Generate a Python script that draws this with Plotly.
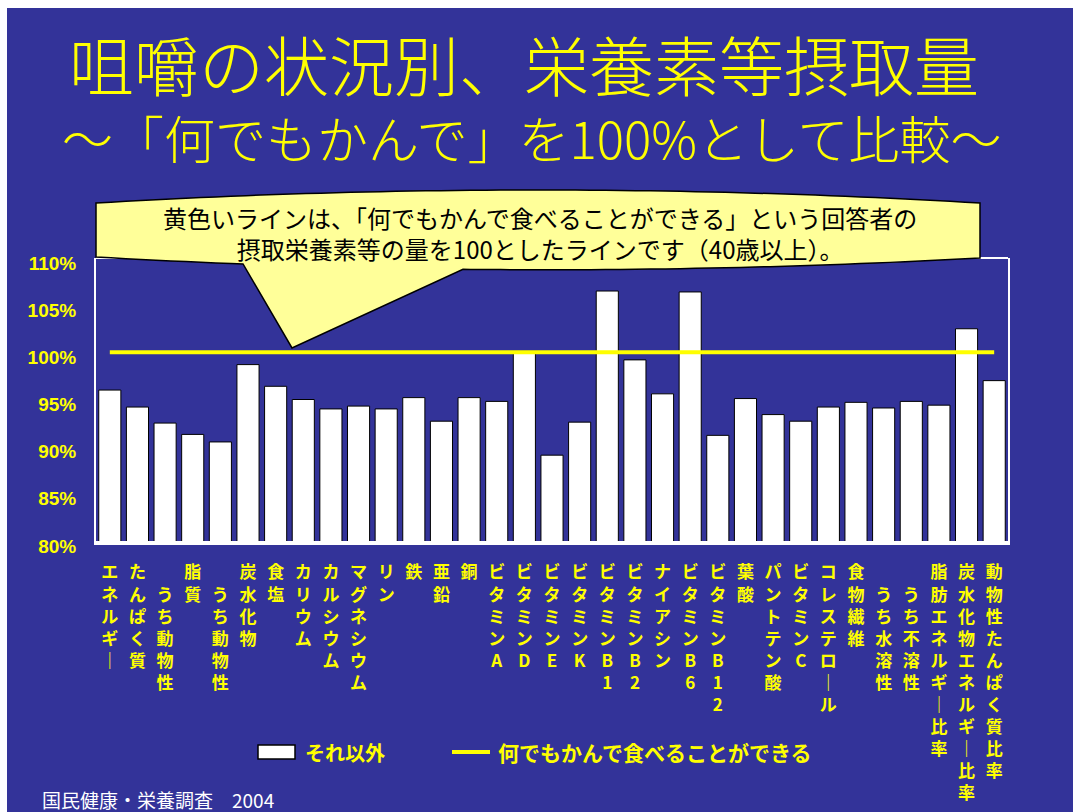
import numpy as np
import plotly.graph_objects as go

# --- data -------------------------------------------------------------
nutrients = [
    "エネルギー", "たんぱく質", "うち動物性", "脂質", "うち動物性", "炭水化物",
    "食塩", "カリウム", "カルシウム", "マグネシウム", "リン", "鉄", "亜鉛", "銅",
    "ビタミンA", "ビタミンD", "ビタミンE", "ビタミンK", "ビタミンB1", "ビタミンB2",
    "ナイアシン", "ビタミンB6", "ビタミンB12", "葉酸", "パントテン酸", "ビタミンC",
    "コレステロール", "食物繊維", "うち水溶性", "うち不溶性",
    "脂肪エネルギー比率", "炭水化物エネルギー比率", "動物性たんぱく質比率",
]
other_pct = [
    96.0, 94.2, 92.5, 91.3, 90.5, 98.7, 96.4, 95.0, 94.0, 94.3, 94.0, 95.2,
    92.7, 95.2, 94.8, 100.0, 89.1, 92.6, 106.5, 99.2, 95.6, 106.4, 91.2, 95.1,
    93.4, 92.7, 94.2, 94.7, 94.1, 94.8, 94.4, 102.5, 97.0,
]
baseline_pct = 100
y_ticks = [80, 85, 90, 95, 100, 105, 110]

series_other = "それ以外"
series_base = "何でもかんで食べることができる"
title_1 = "咀嚼の状況別、栄養素等摂取量"
title_2 = "～「何でもかんで」を100%として比較～"
note_text = ("黄色いラインは、「何でもかんで食べることができる」という回答者の<br>"
             "摂取栄養素等の量を100としたラインです（40歳以上）。")
source_text = "国民健康・栄養調査　2004"

# --- page geometry (pixels) -----------------------------------------
W, H = 1073, 812
PL, PR, PT, PB = 96, 1008, 258, 541  # plot area box
BLUE = "#333399"
YELLOW = "#FFFF00"
CJK = "Noto Sans CJK JP"


def px(x):
    return (x - PL) / (PR - PL)


def py(y):
    return (PB - y) / (PB - PT)


def vertical(name):
    chars = ["｜" if c == "ー" else c for c in name]
    if name.startswith("うち"):
        chars = [" "] + chars
    return "<br>".join(chars)


idx = list(range(len(nutrients)))

fig = go.Figure()
fig.add_trace(go.Bar(
    x=idx, y=other_pct, name=series_other,
    marker=dict(color="white", line=dict(color="black", width=1)),
    showlegend=False,
))
fig.add_trace(go.Scatter(
    x=idx, y=[baseline_pct] * len(idx), name=series_base, mode="lines",
    line=dict(color=YELLOW, width=4), showlegend=False,
))

# --- callout balloon ---------------------------------------------------
def quad(p0, c, p2, n=60):
    t = np.linspace(0, 1, n)[:, None]
    return (1 - t) ** 2 * np.array(p0) + 2 * t * (1 - t) * np.array(c) + t ** 2 * np.array(p2)


top = quad((96, 203), (538, 177), (980, 203))
bottom = quad((980, 258), (538, 282), (96, 257))
tail_r, tail_tip, tail_l = 463, (292, 348), 243


def bottom_y(xv):
    # x is linear along this curve
    t = (980 - xv) / (980 - 96)
    return (1 - t) ** 2 * 258 + 2 * t * (1 - t) * 282 + t ** 2 * 257


pts = [tuple(p) for p in top]
pts.append((980, 258))
pts += [tuple(p) for p in bottom if p[0] > tail_r]
pts.append((tail_r, bottom_y(tail_r)))
pts.append(tail_tip)
pts.append((tail_l, bottom_y(tail_l)))
pts += [tuple(p) for p in bottom if p[0] < tail_l]
pts.append((96, 257))
path = "M " + " L ".join(f"{px(x):.5f},{py(y):.5f}" for x, y in pts) + " Z"

shapes = [
    # white page edge strips
    dict(type="rect", xref="paper", yref="paper", x0=px(0), x1=px(W), y0=py(0), y1=py(8),
         fillcolor="white", line=dict(width=0), layer="above"),
    dict(type="rect", xref="paper", yref="paper", x0=px(0), x1=px(7), y0=py(0), y1=py(H),
         fillcolor="white", line=dict(width=0), layer="above"),
    # top edge of the plot frame
    dict(type="line", xref="paper", yref="paper", x0=0, x1=1, y0=1, y1=1,
         line=dict(color="white", width=2), layer="above"),
    # balloon
    dict(type="path", xref="paper", yref="paper", path=path,
         fillcolor="#FFFF99", line=dict(color="black", width=1.5), layer="above"),
    # legend keys
    dict(type="rect", xref="paper", yref="paper", x0=px(258), x1=px(295), y0=py(759), y1=py(745),
         fillcolor="white", line=dict(color="black", width=1.5), layer="above"),
    dict(type="line", xref="paper", yref="paper", x0=px(452), x1=px(490), y0=py(752), y1=py(752),
         line=dict(color=YELLOW, width=4), layer="above"),
]

annotations = [
    dict(text=title_1, x=px(524), y=py(63), xref="paper", yref="paper",
         xanchor="center", yanchor="middle", showarrow=False,
         font=dict(family=CJK, size=65, color=YELLOW, weight=300)),
    dict(text=title_2, x=px(532), y=py(137), xref="paper", yref="paper",
         xanchor="center", yanchor="middle", showarrow=False,
         font=dict(family=CJK, size=51, color=YELLOW, weight=300)),
    dict(text=note_text, x=px(540), y=py(233), xref="paper", yref="paper",
         xanchor="center", yanchor="middle", showarrow=False,
         font=dict(family=CJK, size=24, color="black")),
    dict(text=series_other, x=px(303), y=py(752), xref="paper", yref="paper",
         xanchor="left", yanchor="middle", showarrow=False,
         font=dict(family=CJK, size=20, color=YELLOW, weight="bold")),
    dict(text=series_base, x=px(496), y=py(752), xref="paper", yref="paper",
         xanchor="left", yanchor="middle", showarrow=False,
         font=dict(family=CJK, size=21, color=YELLOW, weight="bold")),
    dict(text=source_text, x=px(40), y=py(799), xref="paper", yref="paper",
         xanchor="left", yanchor="middle", showarrow=False,
         font=dict(family=CJK, size=19, color="white")),
]

fig.update_layout(
    width=W, height=H, autosize=False,
    margin=dict(l=PL, r=W - PR, t=PT, b=H - PB, pad=0),
    paper_bgcolor=BLUE, plot_bgcolor=BLUE,
    bargap=0.2,
    shapes=shapes, annotations=annotations,
    showlegend=False,
)
fig.update_xaxes(
    range=[-0.5, len(idx) - 0.5], tickmode="array", tickvals=idx,
    ticktext=[vertical(n) for n in nutrients], tickangle=0,
    tickfont=dict(family=CJK, size=17, color=YELLOW, weight="bold"),
    showgrid=False, zeroline=False, ticks="",
    showline=True, linecolor="white", linewidth=4,
    ticklabelstandoff=13, automargin=False,
)
fig.update_yaxes(
    range=[80, 110], tickmode="array", tickvals=y_ticks,
    ticktext=[f"{v}%" for v in y_ticks],
    tickfont=dict(family="Liberation Sans", size=19, color=YELLOW, weight="bold"),
    showgrid=False, zeroline=False, ticks="",
    showline=True, linecolor="white", linewidth=2, mirror=True,
    ticklabelstandoff=14, ticklabelshift=5, automargin=False,
)

fig.write_html("out.html")
